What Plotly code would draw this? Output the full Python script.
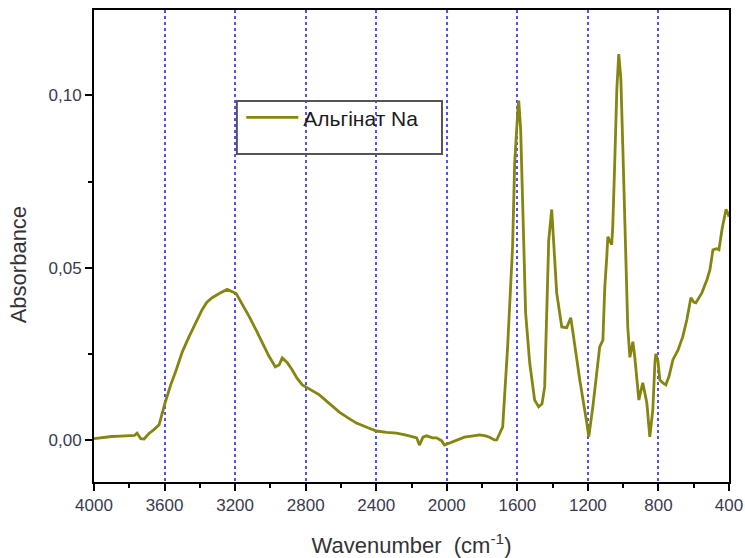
import plotly.graph_objects as go

# Wavenumber (cm^-1) and absorbance
wavenumber = [4000, 3950, 3900, 3850, 3800, 3770, 3756, 3735, 3716, 3690, 3660, 3631, 3597, 3565, 3534,
              3500, 3461, 3420, 3387, 3360, 3330, 3290, 3245, 3194, 3160, 3120, 3080, 3046, 3010,
              2972, 2950, 2933, 2905, 2876, 2850, 2819, 2791, 2760, 2722, 2680, 2640, 2609, 2560,
              2512, 2450, 2399, 2340, 2285, 2230, 2194, 2170, 2155, 2135, 2115, 2080, 2058, 2030,
              2013, 1990, 1945, 1900, 1850, 1814, 1780, 1757, 1730, 1717, 1683, 1655, 1627, 1615,
              1598, 1592, 1581, 1570, 1553, 1530, 1502, 1479, 1460, 1445, 1434, 1422, 1405, 1394,
              1377, 1348, 1320, 1297, 1275, 1246, 1206, 1195, 1172, 1133, 1115, 1104, 1093, 1087,
              1065, 1059, 1047, 1036, 1025, 1013, 1002, 991, 979, 974, 962, 945, 934, 923, 911,
              889, 866, 849, 832, 820, 815, 803, 792, 775, 758, 740, 718, 690, 662, 639, 616, 600,
              588, 554, 525, 508, 491, 470, 457, 440, 417, 408, 400]
absorbance = [0.0004, 0.0008, 0.0010, 0.0011, 0.0012, 0.0013, 0.0020, 0.0004, 0.0003, 0.0018, 0.0030, 0.0044,
              0.0108, 0.0160, 0.0203, 0.0255, 0.0300, 0.0345, 0.0378, 0.0400, 0.0413, 0.0425, 0.0437,
              0.0425, 0.0395, 0.0358, 0.0318, 0.0282, 0.0245, 0.0212, 0.0218, 0.0238, 0.0225, 0.0203,
              0.0180, 0.0160, 0.0151, 0.0143, 0.0131, 0.0112, 0.0095, 0.0081, 0.0064, 0.0049, 0.0036,
              0.0026, 0.0022, 0.0020, 0.0014, 0.0009, 0.0006, -0.0015, 0.0008, 0.0012, 0.0006, 0.0006,
              -0.0002, -0.0015, -0.0010, 0.0000, 0.0008, 0.0012, 0.0015, 0.0012, 0.0008, 0.0000,
              0.0000, 0.0038, 0.0270, 0.0560, 0.0805, 0.0950, 0.0985, 0.0900, 0.0660, 0.0369, 0.0224,
              0.0116, 0.0096, 0.0105, 0.0154, 0.0369, 0.0580, 0.0669, 0.0580, 0.0427, 0.0328, 0.0326,
              0.0355, 0.0270, 0.0174, 0.0049, 0.0009, 0.0096, 0.0270, 0.0290, 0.0445, 0.0530, 0.0590,
              0.0567, 0.0620, 0.0820, 0.1017, 0.1120, 0.1047, 0.0850, 0.0610, 0.0436, 0.0328, 0.0240,
              0.0285, 0.0240, 0.0174, 0.0116, 0.0166, 0.0108, 0.0009, 0.0087, 0.0224, 0.0250, 0.0230,
              0.0174, 0.0166, 0.0160, 0.0185, 0.0233, 0.0260, 0.0300, 0.0349, 0.0413, 0.0400, 0.0398,
              0.0427, 0.0465, 0.0494, 0.0552, 0.0555, 0.0552, 0.0610, 0.0669, 0.0660, 0.0648]

x_ticks = [4000, 3600, 3200, 2800, 2400, 2000, 1600, 1200, 800, 400]
y_ticks = [0.0, 0.05, 0.10]
y_tick_text = ["0,00", "0,05", "0,10"]
series_name = "Альгінат Na"
x_title = "Wavenumber  (cm<sup>-1</sup>)"
y_title = "Absorbance"

FONT = "Arial, Liberation Sans, sans-serif"
TICK_COLOR = "#3a3a4e"

fig = go.Figure()
fig.add_trace(go.Scatter(
    x=wavenumber, y=absorbance, mode="lines", name=series_name,
    line=dict(color="#858510", width=2.8),
))

fig.update_layout(
    width=745, height=558,
    margin=dict(l=94, r=16, t=10, b=76),
    paper_bgcolor="white", plot_bgcolor="white",
    font=dict(family=FONT, color=TICK_COLOR),
    showlegend=True,
    legend=dict(
        x=0.232, y=0.815, xanchor="left", yanchor="top",
        bgcolor="rgba(0,0,0,0)", borderwidth=0, itemwidth=52,
        font=dict(family=FONT, size=21, color="#1a1a1a"),
    ),
    xaxis=dict(
        range=[4000, 400], tickmode="array", tickvals=x_ticks, automargin=False,
        showline=True, linecolor="black", linewidth=2, mirror=True,
        ticks="outside", ticklen=7, tickwidth=2, tickcolor="black",
        minor=dict(ticks="outside", ticklen=4, tickwidth=2, tickcolor="black", dtick=200, showgrid=False),
        showgrid=True, gridcolor="#5050ff", griddash="dot", gridwidth=1.5,
        zeroline=False,
        tickfont=dict(size=17, color=TICK_COLOR),
        title=dict(text=x_title, font=dict(size=22, color="#333333"), standoff=24),
    ),
    yaxis=dict(
        range=[-0.0122, 0.1248], tickmode="array", tickvals=y_ticks, ticktext=y_tick_text, automargin=False,
        showline=True, linecolor="black", linewidth=2, mirror=True,
        ticks="outside", ticklen=7, tickwidth=2, tickcolor="black",
        minor=dict(ticks="outside", ticklen=4, tickwidth=2, tickcolor="black",
                   tickvals=[0.025, 0.075], showgrid=False),
        showgrid=False, zeroline=False,
        tickfont=dict(size=17, color=TICK_COLOR),
    ),
    annotations=[dict(
        text=y_title, textangle=-90, xref="paper", yref="paper",
        x=-0.119, y=0.46, xanchor="center", yanchor="middle", showarrow=False,
        font=dict(family=FONT, size=22, color="#333333"),
    )],
    shapes=[dict(
        type="rect", xref="paper", yref="paper",
        x0=0.225, x1=0.548, y0=0.695, y1=0.807,
        line=dict(color="#555555", width=2), fillcolor="rgba(0,0,0,0)",
    )],
)

fig.write_html("out.html")
